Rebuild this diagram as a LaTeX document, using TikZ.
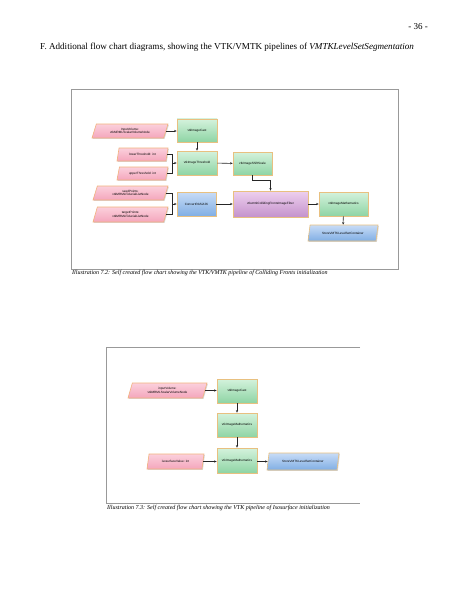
\documentclass[tikz,border=0pt]{standalone}
\usepackage{fontspec}
\setmainfont{Liberation Serif}
\newfontfamily\nodefont{Liberation Sans}
\usetikzlibrary{shapes.geometric,arrows.meta,shadows}
\begin{document}
\begin{tikzpicture}[x=1pt,y=-1pt,
  box/.style={rectangle, draw=#1, line width=0.6pt, inner sep=0.5pt, align=center,
    font=\nodefont\fontsize{3.1}{3.7}\selectfont,
    drop shadow={shadow xshift=0.9pt, shadow yshift=-0.9pt, opacity=0.3, fill=black!50}},
  greenbox/.style={box=tanborder, top color=greentop, bottom color=greenbot},
  bluebox/.style={box=tanborder, top color=bluetop, bottom color=bluebot},
  purplebox/.style={box=tanborder, top color=purptop, bottom color=purpbot},
  pgram/.style={trapezium, trapezium left angle=58, trapezium right angle=122,
    trapezium stretches body, draw=#1, line width=0.6pt, inner sep=0.5pt, align=center,
    font=\nodefont\fontsize{3.1}{3.7}\selectfont,
    drop shadow={shadow xshift=0.9pt, shadow yshift=-0.9pt, opacity=0.3, fill=black!50}},
  pinkp/.style={pgram=pinkborder, top color=pinktop, bottom color=pinkbot},
  bluep/.style={pgram=tanborder, top color=bluetop, bottom color=bluebot},
  conn/.style={draw=black!85, line width=0.55pt},
  arr/.style={conn, -{Stealth[length=2.6pt,width=2.2pt]}},
  frame/.style={draw=black!40, line width=0.6pt},
  captext/.style={font=\itshape\fontsize{6}{7}\selectfont, anchor=west, inner sep=0pt}
]
\definecolor{tanborder}{HTML}{E8C080}
\definecolor{pinkborder}{HTML}{F2B27E}
\definecolor{greentop}{HTML}{D4F2DC}
\definecolor{greenbot}{HTML}{8ED4A4}
\definecolor{bluetop}{HTML}{C8DCF6}
\definecolor{bluebot}{HTML}{80AEE4}
\definecolor{purptop}{HTML}{EED0EE}
\definecolor{purpbot}{HTML}{C492CC}
\definecolor{pinktop}{HTML}{FBD0DC}
\definecolor{pinkbot}{HTML}{F4A6BC}
\useasboundingbox[fill=white] (0,0) rectangle (463,599);

% header
\node[anchor=east, inner sep=0pt, font=\fontsize{9}{10}\selectfont] (pnum) at (428,27) {- 36 -};
\node[anchor=west, inner sep=0pt, font=\fontsize{9.1}{10}\selectfont] (head) at (40,47)
  {F. Additional flow chart diagrams, showing the VTK/VMTK pipelines of \textit{VMTKLevelSetSegmentation}};

% ---------- Figure 1 ----------
\draw[frame] (71,89) rectangle (398,269);
\node[pinkp, minimum width=76pt, minimum height=14pt] (iv) at (130,131) {InputVolume:\\vtkMRMLScalarVolumeNode};
\node[greenbox, minimum width=40pt, minimum height=23pt] (cast) at (197,130.5) {vtkImageCast};
\node[pinkp, minimum width=51pt, minimum height=13pt] (lt) at (142.5,154.5) {lowerThreshold: int};
\node[greenbox, minimum width=40pt, minimum height=24pt] (thr) at (197,163) {vtkImageThreshold};
\node[pinkp, minimum width=51pt, minimum height=13pt] (ut) at (142.5,173.5) {upperThreshold: int};
\node[greenbox, minimum width=39pt, minimum height=23pt] (ss) at (252.5,163.5) {vtkImageShiftScale};
\node[pinkp, minimum width=75pt, minimum height=14pt] (sp) at (130.5,193) {seedPoints:\\vtkMRMLFiducialListNode};
\node[pinkp, minimum width=75pt, minimum height=15pt] (tp) at (130.5,214.5) {targetPoints:\\vtkMRMLFiducialListNode};
\node[bluebox, minimum width=39pt, minimum height=24pt] (ras) at (196.5,204) {ConvertRAS2IJK};
\node[purplebox, minimum width=75pt, minimum height=26pt] (cf) at (270.5,204) {vtkvmtkCollidingFrontsImageFilter};
\node[greenbox, minimum width=49pt, minimum height=24pt] (im) at (343.5,204) {vtkImageMathematics};
\node[bluep, minimum width=70pt, minimum height=16pt] (st) at (343,233) {StoreVMTKLevelSetContainer};

\coordinate (j1) at (172,163);
\coordinate (j2) at (172,204);
\draw[arr] (iv.east) -- (iv.east -| cast.west);
\draw[arr] (cast) -- (thr);
\draw[conn] (lt.east) -| (j1);
\draw[conn] (ut.east) -| (j1);
\draw[arr] (j1) -- (thr.west);
\draw[arr] (thr) -- (ss);
\draw[arr] (ss.south) -- ++(0,5) -| (cf.north);
\draw[conn] (sp.east) -| (j2);
\draw[conn] (tp.east) -| (j2);
\draw[arr] (j2) -- (ras.west);
\draw[arr] (ras) -- (cf);
\draw[arr] (cf) -- (im);
\draw[arr] (im) -- (st);

\node[captext] (cap1) at (72,273.5) {Illustration 7.2: Self created flow chart showing the VTK/VMTK pipeline of Colliding Fronts initialization};

% ---------- Figure 2 ----------
\draw[frame] (360,347) -- (106,347) -- (106,503) -- (360,503);
\node[pinkp, minimum width=79pt, minimum height=15pt] (iv2) at (167.5,390.5) {inputVolume:\\vtkMRMLScalarVolumeNode};
\node[greenbox, minimum width=40pt, minimum height=24pt] (cast2) at (237,391) {vtkImageCast};
\node[greenbox, minimum width=40pt, minimum height=24pt] (m1) at (237,425) {vtkImageMathematics};
\node[greenbox, minimum width=40pt, minimum height=25pt] (m2) at (237,460.5) {vtkImageMathematics};
\node[pinkp, minimum width=57pt, minimum height=15pt] (iso) at (175.5,461.5) {isosurfaceValue: int};
\node[bluep, minimum width=72pt, minimum height=17pt] (st2) at (303,461.5) {StoreVMTKLevelSetContainer};

\draw[arr] (iv2.east) -- (iv2.east -| cast2.west);
\draw[arr] (cast2) -- (m1);
\draw[arr] (m1) -- (m2);
\draw[arr] (iso.east) -- (iso.east -| m2.west);
\draw[arr] (m2.east |- st2.west) -- (st2.west);

\node[captext] (cap2) at (107,508.5) {Illustration 7.3: Self created flow chart showing the VTK pipeline of Isosurface initialization};
\end{tikzpicture}
\end{document}
